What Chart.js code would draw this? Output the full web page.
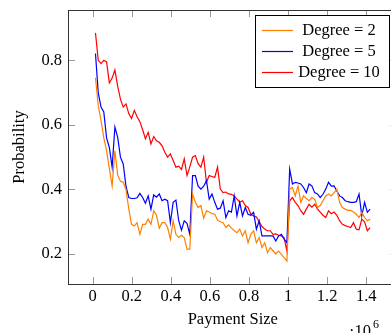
<!DOCTYPE html>
<html>
<head>
<meta charset="utf-8">
<script src="https://cdn.jsdelivr.net/npm/chart.js@4.4.1/dist/chart.umd.min.js"></script>
<style>
  html, body { margin: 0; padding: 0; overflow: hidden; background: #fff; }
  #wrap { width: 400px; height: 333px; }
</style>
</head>
<body>
<div id="wrap"><canvas id="line-chart" width="400" height="333"></canvas></div>
<script>
// payment sizes, one every 14200 from 14200 to 1420000
var paymentSizes = Array.from({ length: 100 }, (_, i) => (i + 1) * 14200);

var degree2 = [
  0.746, 0.66, 0.614, 0.56, 0.52, 0.465, 0.411, 0.52, 0.445, 0.425,
  0.422, 0.40, 0.34, 0.292, 0.287, 0.297, 0.261, 0.292, 0.292, 0.308,
  0.292, 0.334, 0.32, 0.28, 0.297, 0.297, 0.282, 0.246, 0.303, 0.261,
  0.251, 0.258, 0.251, 0.215, 0.215, 0.386, 0.36, 0.344, 0.35, 0.311,
  0.334, 0.33, 0.325, 0.323, 0.305, 0.30, 0.297, 0.282, 0.29, 0.28,
  0.272, 0.266, 0.277, 0.256, 0.272, 0.235, 0.261, 0.272, 0.235, 0.251,
  0.22, 0.235, 0.204, 0.22, 0.21, 0.20, 0.209, 0.199, 0.189, 0.178,
  0.401, 0.406, 0.38, 0.411, 0.36, 0.38, 0.372, 0.365, 0.375, 0.37,
  0.344, 0.35, 0.365, 0.38, 0.386, 0.38, 0.39, 0.401, 0.36, 0.344,
  0.339, 0.335, 0.335, 0.33, 0.323, 0.313, 0.329, 0.313, 0.303, 0.308
];

var degree5 = [
  0.821, 0.70, 0.655, 0.64, 0.56, 0.53, 0.469, 0.593, 0.562, 0.50,
  0.479, 0.41, 0.375, 0.372, 0.372, 0.374, 0.388, 0.375, 0.357, 0.38,
  0.339, 0.383, 0.376, 0.386, 0.365, 0.37, 0.365, 0.297, 0.36, 0.367,
  0.303, 0.274, 0.303, 0.295, 0.261, 0.443, 0.443, 0.41, 0.401, 0.41,
  0.427, 0.37, 0.386, 0.36, 0.339, 0.342, 0.365, 0.313, 0.334, 0.33,
  0.38, 0.318, 0.36, 0.318, 0.344, 0.323, 0.32, 0.329, 0.277, 0.303,
  0.256, 0.256, 0.256, 0.256, 0.256, 0.24, 0.256, 0.261, 0.246, 0.235,
  0.463, 0.417, 0.422, 0.42, 0.417, 0.406, 0.39, 0.417, 0.411, 0.39,
  0.386, 0.375, 0.385, 0.401, 0.422, 0.41, 0.411, 0.395, 0.38, 0.375,
  0.365, 0.362, 0.36, 0.36, 0.362, 0.386, 0.318, 0.36, 0.329, 0.339
];

var degree10 = [
  0.885, 0.80, 0.79, 0.80, 0.795, 0.73, 0.745, 0.77, 0.72, 0.68,
  0.655, 0.665, 0.635, 0.62, 0.645, 0.625, 0.61, 0.585, 0.557, 0.577,
  0.541, 0.564, 0.551, 0.546, 0.535, 0.515, 0.50, 0.51, 0.49, 0.469,
  0.472, 0.462, 0.495, 0.443, 0.47, 0.50, 0.505, 0.48, 0.469, 0.50,
  0.422, 0.443, 0.44, 0.437, 0.469, 0.401, 0.39, 0.392, 0.386, 0.385,
  0.38, 0.37, 0.36, 0.365, 0.35, 0.344, 0.323, 0.318, 0.315, 0.30,
  0.285, 0.277, 0.272, 0.272, 0.261, 0.262, 0.258, 0.256, 0.25, 0.209,
  0.365, 0.375, 0.36, 0.35, 0.334, 0.323, 0.339, 0.354, 0.345, 0.354,
  0.34, 0.33, 0.32, 0.313, 0.334, 0.325, 0.33, 0.32, 0.303, 0.292,
  0.288, 0.285, 0.282, 0.297, 0.277, 0.275, 0.308, 0.30, 0.272, 0.282
];

var seriesLabels = ["Degree = 2", "Degree = 5", "Degree = 10"];
var seriesColors = ["#ff8000", "#0000ff", "#ff0000"];

var xTickValues = [0, 200000, 400000, 600000, 800000, 1000000, 1200000, 1400000];
var yTickValues = [0.2, 0.4, 0.6, 0.8];

var serif = "'Liberation Serif', 'DejaVu Serif', serif";

function pairs(values) {
  return values.map((v, i) => ({ x: paymentSizes[i], y: v }));
}

// frame, inward tick marks on all four sides, in-plot legend and the 10^6 note
var pgfLook = {
  id: 'pgfLook',
  afterDraw(chart) {
    var c = chart.ctx;
    var a = chart.chartArea;
    var xs = chart.scales.x;
    var ys = chart.scales.y;
    c.save();

    c.strokeStyle = '#999';
    c.lineWidth = 1;
    c.beginPath();
    xTickValues.forEach(v => {
      var px = Math.round(xs.getPixelForValue(v)) + 0.5;
      c.moveTo(px, a.bottom); c.lineTo(px, a.bottom - 7);
      c.moveTo(px, a.top); c.lineTo(px, a.top + 7);
    });
    yTickValues.forEach(v => {
      var py = Math.round(ys.getPixelForValue(v)) + 0.5;
      c.moveTo(a.left, py); c.lineTo(a.left + 7, py);
      c.moveTo(a.right, py); c.lineTo(a.right - 7, py);
    });
    c.stroke();

    c.strokeStyle = '#333';
    c.strokeRect(Math.round(a.left) + 0.5, Math.round(a.top) + 0.5,
      Math.round(a.right - a.left), Math.round(a.bottom - a.top));

    // legend box
    var bx = 255.5, by = 15.5, bw = 134, bh = 72;
    c.fillStyle = '#fff';
    c.fillRect(bx, by, bw, bh);
    c.strokeStyle = '#000';
    c.strokeRect(bx, by, bw, bh);
    c.font = '16.5px ' + serif;
    c.textAlign = 'center';
    c.textBaseline = 'middle';
    chart.data.datasets.forEach((ds, i) => {
      var ly = 30 + i * 21;
      c.strokeStyle = ds.borderColor;
      c.lineWidth = 1.2;
      c.beginPath();
      c.moveTo(262, ly + 0.5); c.lineTo(293, ly + 0.5);
      c.stroke();
      c.fillStyle = '#000';
      c.fillText(ds.label, 339, ly + 1);
    });

    // ·10^6 multiplier under the right end of the x axis
    c.textAlign = 'left';
    c.textBaseline = 'alphabetic';
    c.font = '16.5px ' + serif;
    c.fillText('\u00b710', 349, 336);
    c.font = '12px ' + serif;
    c.fillText('6', 373, 328);
    c.restore();
  }
};

var ctx = document.getElementById("line-chart");

var lineChart = new Chart(ctx, {
  type: 'line',
  data: {
    datasets: [degree2, degree5, degree10].map((vals, i) => ({
      label: seriesLabels[i],
      data: pairs(vals),
      borderColor: seriesColors[i],
      backgroundColor: seriesColors[i],
      borderWidth: 1.2,
      pointRadius: 0,
      tension: 0,
      fill: false
    }))
  },
  options: {
    responsive: false,
    animation: false,
    layout: { padding: { top: 10, right: 2.4, left: 0, bottom: 0 } },
    plugins: {
      legend: { display: false },
      tooltip: { enabled: false }
    },
    scales: {
      x: {
        type: 'linear',
        min: -126400,
        max: 1560600,
        afterBuildTicks: s => { s.ticks = xTickValues.map(v => ({ value: v })); },
        afterFit: s => { s.height = 49; s.paddingLeft = 0; s.paddingRight = 0; },
        grid: { display: false, drawTicks: false },
        border: { display: false },
        ticks: {
          padding: 3,
          color: '#000',
          font: { family: serif, size: 16.5 },
          maxRotation: 0,
          callback: v => String(Math.round(v / 100000) / 10)
        },
        title: {
          display: true,
          text: 'Payment Size',
          color: '#000',
          font: { family: serif, size: 16.5 },
          padding: { top: 0, bottom: 3 }
        }
      },
      y: {
        min: 0.107,
        max: 0.956,
        afterBuildTicks: s => { s.ticks = yTickValues.map(v => ({ value: v })); },
        afterFit: s => { s.width = 68; s.paddingTop = 0; s.paddingBottom = 0; },
        grid: { display: false, drawTicks: false },
        border: { display: false },
        ticks: {
          padding: 6,
          color: '#000',
          font: { family: serif, size: 16.5 },
          callback: v => v.toFixed(1)
        },
        title: {
          display: true,
          text: 'Probability',
          color: '#000',
          font: { family: serif, size: 16.5 },
          padding: { top: 10, bottom: 0 }
        }
      }
    }
  },
  plugins: [pgfLook]
});
</script>
</body>
</html>
